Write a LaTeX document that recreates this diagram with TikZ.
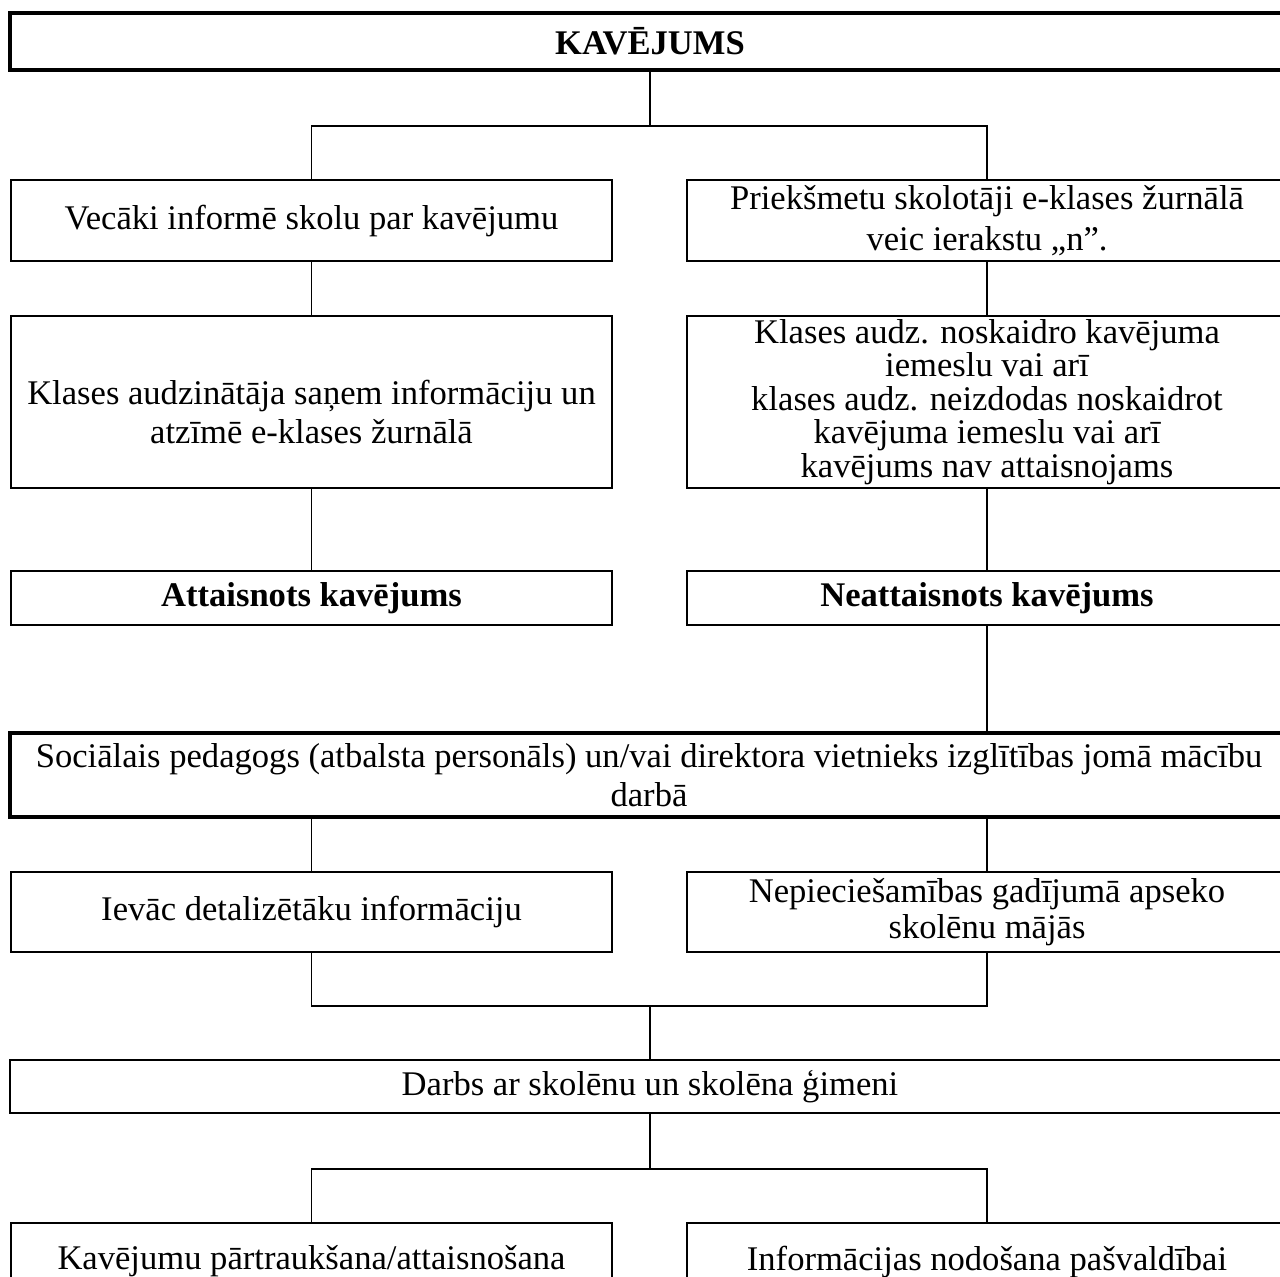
\documentclass[tikz,border=0pt]{standalone}
\usepackage{fontspec}
\setmainfont{Liberation Serif}

\newcommand{\pxu}{0.347pt}

\begin{document}
\begin{tikzpicture}[x=0.347pt,y=-0.347pt,
  box/.style={draw, line width=0.55pt, rectangle, inner sep=0pt, align=center,
    font=\fontsize{12}{13.6}\selectfont},
  thickbox/.style={box, line width=1.4pt},
  link/.style={line width=0.55pt}]

\path[use as bounding box, clip] (0,0) rectangle (1280,1276);

%% boxes
\node[thickbox, minimum width=1280*\pxu, minimum height=57*\pxu] (kav) at (650,41.5) {\textbf{KAVĒJUMS}};
\node[box, minimum width=601*\pxu, minimum height=81*\pxu] (vec) at (311.5,220.5) {Vecāki informē skolu par kavējumu};
\node[box, minimum width=600*\pxu, minimum height=81*\pxu, font=\fontsize{12}{14.2}\selectfont] (pri) at (987,220.5) {Priekšmetu skolotāji e-klases žurnālā\\veic ierakstu „n”.};
\node[box, minimum width=601*\pxu, minimum height=172*\pxu] (kla) at (311.5,402) {\\[2pt]Klases audzinātāja saņem informāciju un\\atzīmē e-klases žurnālā};
\node[box, minimum width=600*\pxu, minimum height=172*\pxu, font=\fontsize{12}{11.6}\selectfont] (nos) at (987,402) {Klases audz. noskaidro kavējuma\\iemeslu vai arī\\klases audz. neizdodas noskaidrot\\kavējuma iemeslu vai arī\\kavējums nav attaisnojams};
\node[box, minimum width=601*\pxu, minimum height=54*\pxu] (att) at (311.5,598) {\textbf{Attaisnots kavējums}};
\node[box, minimum width=600*\pxu, minimum height=54*\pxu] (neatt) at (987,598) {\textbf{Neattaisnots kavējums}};
\node[thickbox, minimum width=1278*\pxu, minimum height=84*\pxu] (soc) at (649,775) {Sociālais pedagogs (atbalsta personāls) un/vai direktora vietnieks izglītības jomā mācību\\darbā};
\node[box, minimum width=601*\pxu, minimum height=80*\pxu] (iev) at (311.5,912) {Ievāc detalizētāku informāciju};
\node[box, minimum width=600*\pxu, minimum height=80*\pxu, font=\fontsize{12}{12.4}\selectfont] (nep) at (987,912) {Nepieciešamības gadījumā apseko\\skolēnu mājās};
\node[box, minimum width=1280*\pxu, minimum height=53*\pxu] (darbs) at (650,1086.5) {Darbs ar skolēnu un skolēna ģimeni};
\node[box, minimum width=601*\pxu, minimum height=77*\pxu] (kavp) at (311.5,1261.5) {Kavējumu pārtraukšana/attaisnošana};
\node[box, minimum width=600*\pxu, minimum height=77*\pxu] (info) at (987,1261.5) {Informācijas nodošana pašvaldībai};

%% junctions
\coordinate (j1) at (650,126);
\coordinate (j2) at (650,1006);
\coordinate (j3) at (650,1169);

%% connectors
\draw[link] (kav) -- (j1);                      %% kav - split
\draw[link] (vec.north) |- (j1) -| (pri.north); %% split - vec, pri
\draw[link] (vec) -- (kla);                     %% vec - kla
\draw[link] (pri) -- (nos);                     %% pri - nos
\draw[link] (kla) -- (att);                     %% kla - att
\draw[link] (nos) -- (neatt);                   %% nos - neatt
\draw[link] (neatt) -- (neatt |- soc.north);    %% neatt - soc
\draw[link] (iev) -- (iev |- soc.south);        %% soc - iev
\draw[link] (nep) -- (nep |- soc.south);        %% soc - nep
\draw[link] (iev.south) |- (j2) -| (nep.south); %% iev, nep - join
\draw[link] (j2) -- (darbs);                    %% join - darbs
\draw[link] (darbs) -- (j3);                    %% darbs - split
\draw[link] (kavp.north) |- (j3) -| (info.north); %% split - kavp, info

\end{tikzpicture}
\end{document}
